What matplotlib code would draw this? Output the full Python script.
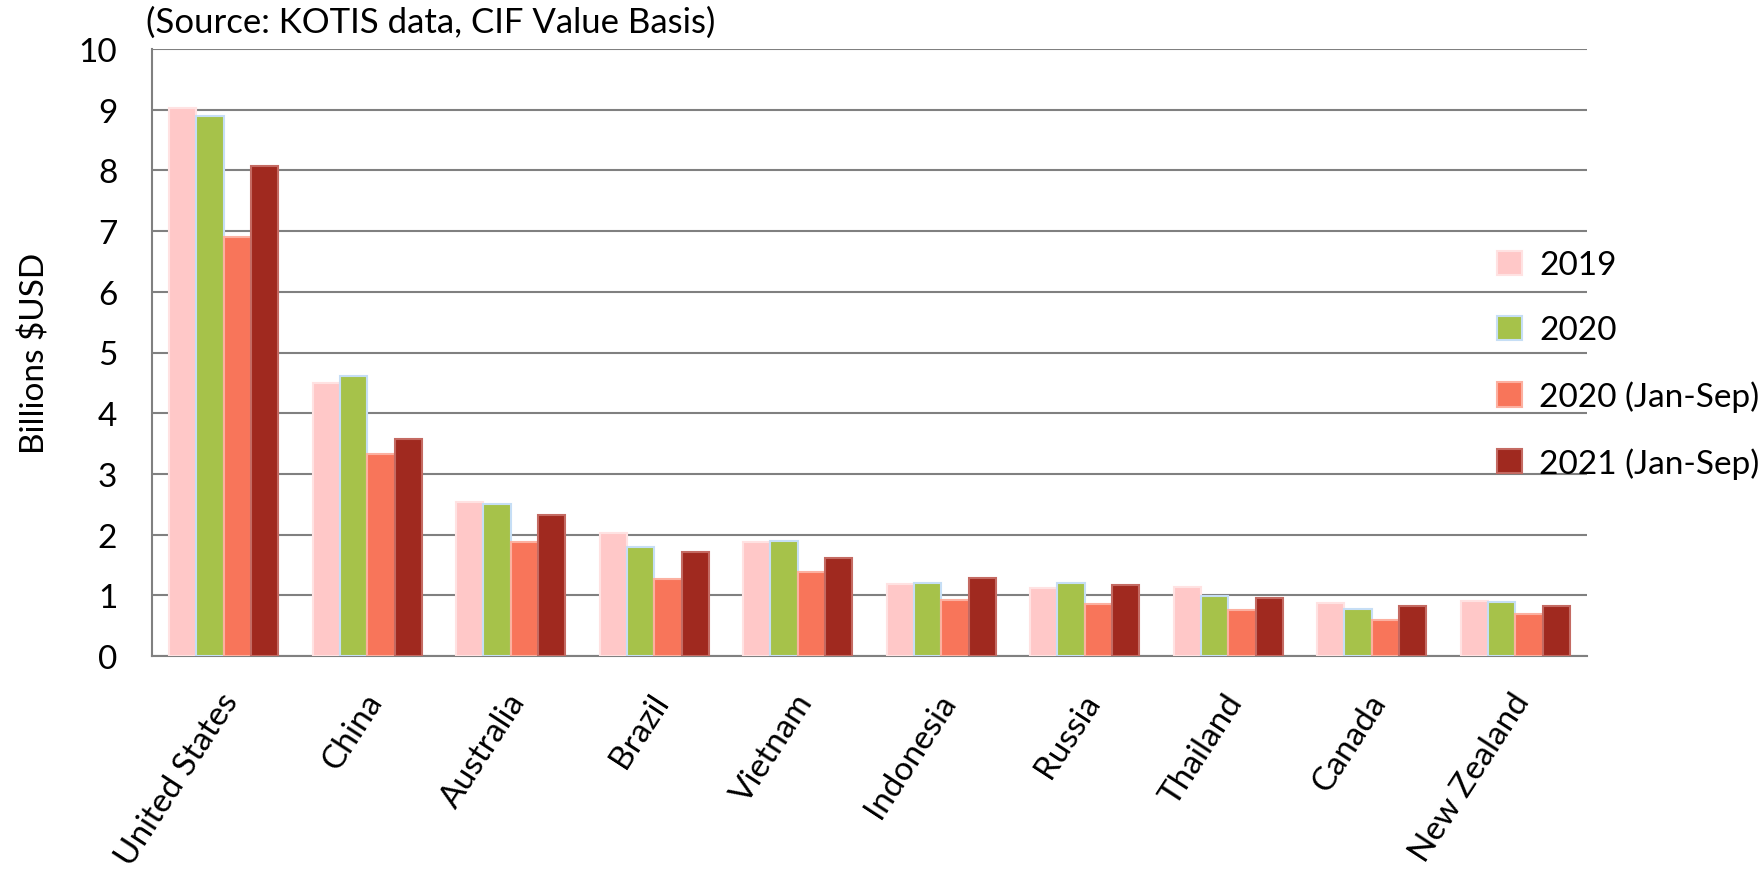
import matplotlib
matplotlib.use("Agg")
import matplotlib.pyplot as plt
import numpy as np

categories = ["United States", "China", "Australia", "Brazil", "Vietnam",
              "Indonesia", "Russia", "Thailand", "Canada", "New Zealand"]
series_names = ["2019", "2020", "2020 (Jan-Sep)", "2021 (Jan-Sep)"]
v2019 = [9.03, 4.49, 2.53, 2.03, 1.88, 1.18, 1.12, 1.13, 0.87, 0.90]
v2020 = [8.89, 4.61, 2.50, 1.80, 1.90, 1.21, 1.21, 0.99, 0.78, 0.89]
v2020_js = [6.91, 3.32, 1.88, 1.27, 1.39, 0.92, 0.85, 0.75, 0.59, 0.69]
v2021_js = [8.07, 3.58, 2.32, 1.71, 1.61, 1.29, 1.17, 0.95, 0.83, 0.83]
yticks = list(range(0, 11))

colors = ["#FFC8C8", "#A6C24A", "#F8755A", "#A0291F"]
edges = ["#FFE2E2", "#C6DEF5", "#FCB0A0", "#C46A62"]

plt.rcParams['font.family'] = ['Lato', 'DejaVu Sans']
fs = 24

fig = plt.figure(figsize=(17.64, 8.70), dpi=100)
ax = fig.add_axes([152/1764, 1-657/870, (1587-152)/1764, (657-50)/870])

x = np.arange(len(categories))
w = 0.19
data = [v2019, v2020, v2020_js, v2021_js]
for i, (vals, c, e, name) in enumerate(zip(data, colors, edges, series_names)):
    ax.bar(x + (i - 1.5) * w, vals, width=w, color=c, edgecolor=e,
           linewidth=1.5, label=name, zorder=3)

ax.set_xlim(-0.5, len(categories) - 0.5)
ax.set_ylim(0, 10)
ax.set_yticks(yticks)
ax.set_yticklabels([str(t) for t in yticks], fontsize=fs)
ax.yaxis.grid(True, color="#808080", linewidth=1.5, zorder=0)
ax.set_axisbelow(True)
ax.tick_params(axis='y', length=0, pad=25)
ax.tick_params(axis='x', length=0, pad=0)
ax.set_xticks(x)
ax.set_xticklabels([])
for xi, lab in zip(x, categories):
    ax.annotate(lab, xy=(xi, 0), xycoords=('data', 'axes fraction'),
                xytext=(8, -40), textcoords='offset pixels',
                rotation=57, rotation_mode='anchor', ha='right', va='center',
                fontsize=fs)

for s in ['top', 'right']:
    ax.spines[s].set_visible(False)
for s in ['left', 'bottom']:
    ax.spines[s].set_color("#808080")
    ax.spines[s].set_linewidth(1.5)

ax.set_ylabel("Billions $USD", fontsize=fs, labelpad=20)
fig.text(146/1764, 1-23/870, "(Source: KOTIS data, CIF Value Basis)",
         fontsize=25, ha='left', va='center')

leg = ax.legend(loc='upper left', bbox_to_anchor=((1484-152)/(1587-152), (657-238)/(657-50)),
                frameon=False, fontsize=fs, handlelength=0.75, handleheight=0.75,
                handletextpad=0.5, labelspacing=1.05, borderaxespad=0)

fig.savefig("out.png", dpi=100)
